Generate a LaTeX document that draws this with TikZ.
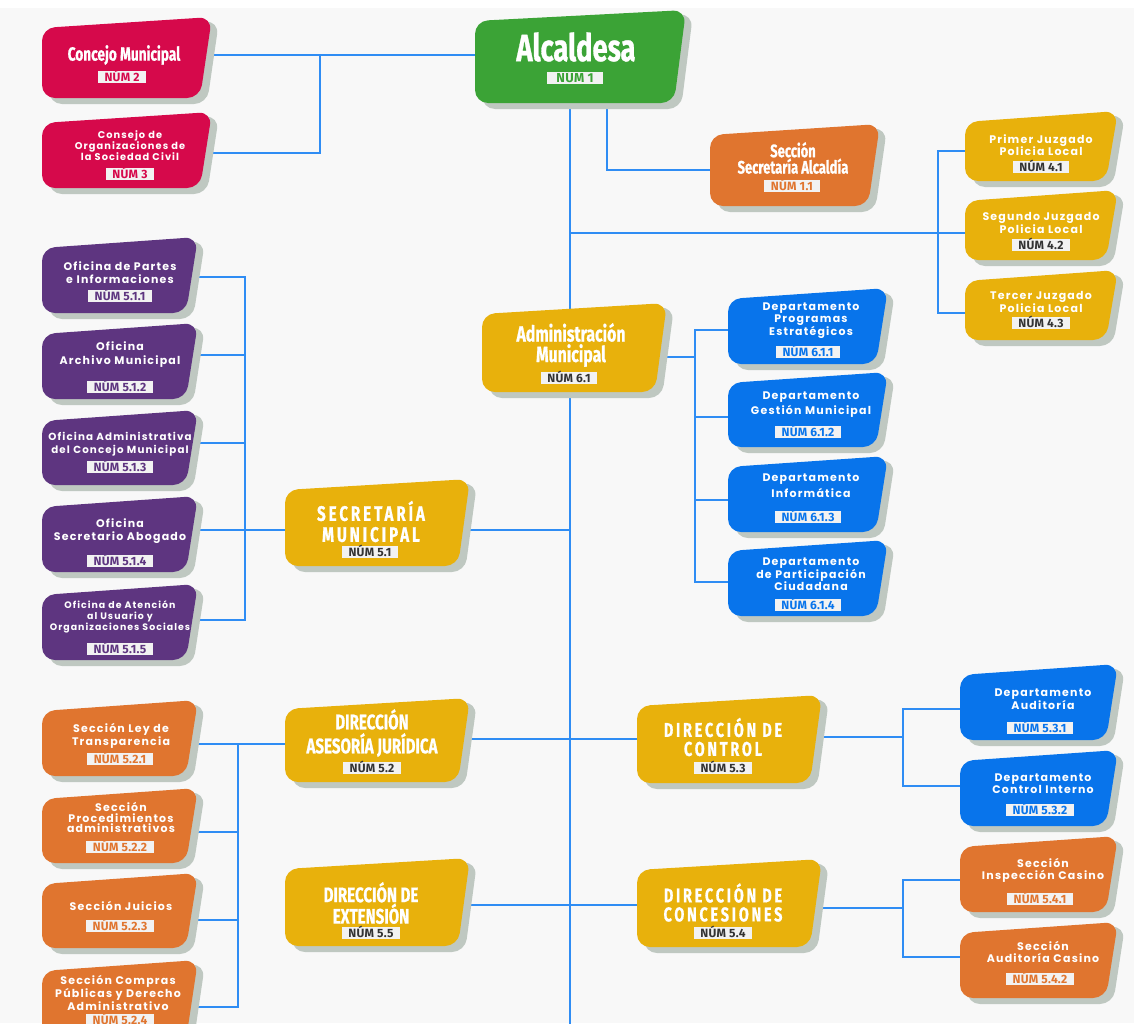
\documentclass[tikz,border=0pt]{standalone}
\usepackage{fontspec}
\usetikzlibrary{fit,calc}
\newfontfamily\condf{Fira Sans}[FakeStretch=0.72,FakeBold=0.8]
\newfontfamily\condsp{Fira Sans}[FakeStretch=0.72,FakeBold=0.8,LetterSpace=14]
\newfontfamily\bodyf{Poppins}[LetterSpace=11]
\newfontfamily\labf{Fira Sans}[LetterSpace=2]
\definecolor{bgc}{HTML}{F8F8F8}
\definecolor{grn}{HTML}{3BA336}
\definecolor{redc}{HTML}{D6094B}
\definecolor{orc}{HTML}{E0752F}
\definecolor{yel}{HTML}{E8B10C}
\definecolor{blu}{HTML}{0874EB}
\definecolor{pur}{HTML}{5E3580}
\definecolor{lnc}{HTML}{2F8DF4}
\definecolor{shc}{HTML}{BFC8C1}
\definecolor{labbg}{HTML}{F2F2F2}
\definecolor{darkt}{HTML}{333333}
\pgfdeclarelayer{back}
\pgfdeclarelayer{lines}
\pgfsetlayers{back,lines,main}
\tikzset{
  conn/.style={draw=lnc, line width=1.9pt},
  ttl/.style={text=white, align=center, inner sep=0pt, font=\condf\bfseries\fontsize{21}{20}\selectfont},
  ttlsp/.style={text=white, align=center, inner sep=0pt, font=\condsp\bfseries\fontsize{21}{18}\selectfont},
  sml/.style={text=white, align=center, inner sep=0pt, font=\bodyf\bfseries\fontsize{11}{12.5}\selectfont},
  numl/.style={fill=labbg, inner xsep=6.5pt, inner ysep=1pt, text height=9.3pt, text depth=0.6pt, font=\labf\bfseries\fontsize{12}{12}\selectfont},
}
\newcommand\obox[6]{%
  \fill[shc, rounded corners=13pt] ({#2+7},{#3+15}) -- ({#4+7},{#3+4}) -- ({#4-5},{#5+6}) -- ({#2+7},{#5+6}) -- cycle;
  \fill[#6, rounded corners=13pt] (#2,{#3+11}) -- (#4,#3) -- ({#4-12},#5) -- (#2,#5) -- cycle;
  \node[fit={(#2,#3) (#4,#5)}, inner sep=0pt] (#1) {};
}
\newcommand\numlab[5]{\node[numl, text=#4] (#1) at (#2,#3) {NÚM #5};}
\begin{document}
\begin{tikzpicture}[x=1pt,y=-1pt]
\useasboundingbox (0,0) rectangle (1134,1023);
\begin{pgfonlayer}{back}
  \fill[white] (0,0) rectangle (1134,1023);
  \fill[bgc] (0,8) rectangle (1134,1023);
\end{pgfonlayer}

% ---------- boxes ----------
\obox{alc}{475}{10}{686}{103}{grn}
\node[ttl, font=\condf\bfseries\fontsize{38}{38}\selectfont] (alc-t) at (576,47) {Alcaldesa};
\node[numl, text=grn, inner xsep=9pt, font=\labf\bfseries\fontsize{13}{13}\selectfont] (alc-n) at (575,78) {NÚM 1};

\obox{conc}{42}{17}{212}{98}{redc}
\node[ttl, font=\condf\bfseries\fontsize{19}{19}\selectfont] (conc-t) at (124,55) {Concejo Municipal};
\numlab{conc-n}{122}{77}{redc}{2}

\obox{cons}{42}{112}{212}{188}{redc}
\node[sml, font=\bodyf\bfseries\fontsize{9.8}{11}\selectfont] (cons-t) at (130,146) {Consejo de\\Organizaciones de\\la Sociedad Civil};
\numlab{cons-n}{130}{174}{redc}{3}

\obox{secal}{710}{124}{880}{206}{orc}
\node[ttl, font=\condf\bfseries\fontsize{18}{15}\selectfont] (secal-t) at (793,158) {Sección\\Secretaría Alcaldía};
\numlab{secal-n}{792}{186}{orc}{1.1}

\obox{jz1}{965}{111}{1118}{181}{yel}
\node[sml] (jz1-t) at (1041,145) {Primer Juzgado\\Policia Local};
\numlab{jz1-n}{1041}{167}{darkt}{4.1}
\obox{jz2}{965}{190}{1118}{260}{yel}
\node[sml] (jz2-t) at (1041,223) {Segundo Juzgado\\Policia Local};
\numlab{jz2-n}{1041}{245}{darkt}{4.2}
\obox{jz3}{965}{270}{1118}{340}{yel}
\node[sml] (jz3-t) at (1041,302) {Tercer Juzgado\\Policia Local};
\numlab{jz3-n}{1041}{323}{darkt}{4.3}

\obox{adm}{482}{303}{667}{392}{yel}
\node[ttl, font=\condf\bfseries\fontsize{22}{20.5}\selectfont] (adm-t) at (571,345) {Administración\\Municipal};
\numlab{adm-n}{569}{378}{darkt}{6.1}

\obox{d611}{728}{288}{888}{364}{blu}
\node[sml] (d611-t) at (811,320.5) {Departamento\\Programas\\Estratégicos};
\numlab{d611-n}{808}{352}{blu}{6.1.1}
\obox{d612}{728}{372}{888}{447}{blu}
\node[sml, font=\bodyf\bfseries\fontsize{11}{15}\selectfont] (d612-t) at (811,404.5) {Departamento\\Gestión Municipal};
\numlab{d612-n}{808}{432}{blu}{6.1.2}
\obox{d613}{728}{456}{888}{532}{blu}
\node[sml, font=\bodyf\bfseries\fontsize{11}{16}\selectfont] (d613-t) at (811,486) {Departamento\\Informática};
\numlab{d613-n}{808}{517}{blu}{6.1.3}
\obox{d614}{728}{540}{888}{616}{blu}
\node[sml] (d614-t) at (811,574.5) {Departamento\\de Participación\\Ciudadana};
\numlab{d614-n}{808}{605}{blu}{6.1.4}

\obox{secm}{285}{479}{470}{566}{yel}
\node[ttlsp, font=\condsp\bfseries\fontsize{21}{21}\selectfont] (secm-t) at (371,521.5) {SECRETARÍA\\MUNICIPAL};
\numlab{secm-n}{370}{552}{darkt}{5.1}

\obox{p511}{42}{237}{198}{313}{pur}
\node[sml, font=\bodyf\bfseries\fontsize{11}{13}\selectfont] (p511-t) at (120,272.5) {Oficina de Partes\\e Informaciones};
\numlab{p511-n}{120}{296}{pur}{5.1.1}
\obox{p512}{42}{323}{198}{399}{pur}
\node[sml, font=\bodyf\bfseries\fontsize{11}{14}\selectfont] (p512-t) at (120,355) {Oficina\\Archivo Municipal};
\numlab{p512-n}{120}{387}{pur}{5.1.2}
\obox{p513}{42}{410}{198}{485}{pur}
\node[sml, font=\bodyf\bfseries\fontsize{10.3}{12.5}\selectfont] (p513-t) at (120,444) {Oficina Administrativa\\del Concejo Municipal};
\numlab{p513-n}{120}{467}{pur}{5.1.3}
\obox{p514}{42}{496}{198}{572}{pur}
\node[sml, font=\bodyf\bfseries\fontsize{11}{12.5}\selectfont] (p514-t) at (120,531) {Oficina\\Secretario Abogado};
\numlab{p514-n}{120}{561}{pur}{5.1.4}
\obox{p515}{42}{584}{198}{660}{pur}
\node[sml, font=\bodyf\bfseries\fontsize{9.4}{11}\selectfont] (p515-t) at (120,617) {Oficina de Atención\\al Usuario y\\Organizaciones Sociales};
\numlab{p515-n}{120}{649}{pur}{5.1.5}

\obox{ases}{285}{698}{470}{782}{yel}
\node[ttl, font=\condf\bfseries\fontsize{21}{24}\selectfont] (ases-t) at (372,733) {DIRECCIÓN\\ASESORÍA JURÍDICA};
\numlab{ases-n}{372}{768}{darkt}{5.2}

\obox{ctrl}{637}{695}{822}{783}{yel}
\node[ttlsp, font=\condsp\bfseries\fontsize{20}{19}\selectfont] (ctrl-t) at (723,737) {DIRECCIÓN DE\\CONTROL};
\numlab{ctrl-n}{723}{768}{darkt}{5.3}

\obox{aud}{960}{664}{1118}{740}{blu}
\node[sml] (aud-t) at (1043,699) {Departamento\\Auditoría};
\numlab{aud-n}{1040}{728}{blu}{5.3.1}
\obox{cint}{960}{750}{1118}{826}{blu}
\node[sml] (cint-t) at (1043,783.5) {Departamento\\Control Interno};
\numlab{cint-n}{1040}{810}{blu}{5.3.2}

\obox{ext}{285}{858}{470}{946}{yel}
\node[ttl, font=\condf\bfseries\fontsize{21}{20}\selectfont] (ext-t) at (371,903) {DIRECCIÓN DE\\EXTENSIÓN};
\numlab{ext-n}{371}{933}{darkt}{5.5}

\obox{conces}{637}{859}{822}{947}{yel}
\node[ttlsp, font=\condsp\bfseries\fontsize{20}{19}\selectfont] (conces-t) at (723,902.5) {DIRECCIÓN DE\\CONCESIONES};
\numlab{conces-n}{723}{933}{darkt}{5.4}

\obox{insp}{960}{836}{1118}{912}{orc}
\node[sml] (insp-t) at (1043,870.5) {Sección\\Inspección Casino};
\numlab{insp-n}{1040}{899}{orc}{5.4.1}
\obox{audc}{960}{922}{1118}{998}{orc}
\node[sml] (audc-t) at (1043,952) {Sección\\Auditoría Casino};
\numlab{audc-n}{1040}{979}{orc}{5.4.2}

\obox{o521}{42}{700}{198}{776}{orc}
\node[sml, font=\bodyf\bfseries\fontsize{11}{13}\selectfont] (o521-t) at (121,735.5) {Sección Ley de\\Transparencia};
\numlab{o521-n}{120}{759}{orc}{5.2.1}
\obox{o522}{42}{788}{198}{863}{orc}
\node[sml, font=\bodyf\bfseries\fontsize{11}{10.8}\selectfont] (o522-t) at (121,817.5) {Sección\\Procedimientos\\administrativos};
\numlab{o522-n}{120}{847}{orc}{5.2.2}
\obox{o523}{42}{873}{198}{948}{orc}
\node[sml] (o523-t) at (121,906) {Sección Juicios};
\numlab{o523-n}{120}{926}{orc}{5.2.3}
\obox{o524}{42}{960}{198}{1040}{orc}
\node[sml, font=\bodyf\bfseries\fontsize{11}{13}\selectfont] (o524-t) at (118,993) {Sección Compras\\Públicas y Derecho\\Administrativo};
\numlab{o524-n}{120}{1020}{orc}{5.2.4}

% ---------- connectors ----------
\begin{pgfonlayer}{lines}
  \coordinate (tbot) at (570,1030);
  \coordinate (jA) at (320,55);
  \draw[conn] (conc.east |- jA) -- (jA) |- (cons.east |- 0,153);
  \draw[conn] (alc.west |- jA) -- (jA);
  \draw[conn] (alc.south -| tbot) -- (tbot);
  \draw[conn] (alc.south -| 607,0) |- (secal.west |- 0,170);
  % juzgados
  \coordinate (jJ) at (938,233);
  \draw[conn] (tbot |- jJ) -- (jz2.west |- jJ);
  \draw[conn] (jz1.west |- 0,151) -| (jJ) |- (jz3.west |- 0,313);
  % administracion
  \coordinate (jD) at (695,357);
  \draw[conn] (adm.east |- jD) -- (jD);
  \draw[conn] (d611.west |- 0,330) -| (jD) |- (d614.west |- 0,582);
  \draw[conn] (jD |- 0,417) -- (d612.west |- 0,417);
  \draw[conn] (jD |- 0,500) -- (d613.west |- 0,500);
  % secretaria
  \coordinate (jS) at (245,530);
  \draw[conn] (secm.east |- jS) -- (tbot |- jS);
  \draw[conn] (secm.west |- jS) -- (p514.east |- jS);
  \draw[conn] (p511.east |- 0,277) -| (jS) |- (p515.east |- 0,620);
  \draw[conn] (jS |- 0,355) -- (p512.east |- 0,355);
  \draw[conn] (jS |- 0,443) -- (p513.east |- 0,443);
  % asesoria
  \coordinate (jL) at (238,744);
  \draw[conn] (ases.east |- 0,739) -- (ctrl.west |- 0,739);
  \draw[conn] (ases.west |- jL) -- (jL);
  \draw[conn] (o521.east |- jL) -- (jL) |- (o524.east |- 0,1007);
  \draw[conn] (jL |- 0,832) -- (o522.east |- 0,832);
  \draw[conn] (jL |- 0,920) -- (o523.east |- 0,920);
  % control
  \coordinate (jC) at (903,737);
  \draw[conn] (ctrl.east |- jC) -- (jC);
  \draw[conn] (aud.west |- 0,709) -| (jC) |- (cint.west |- 0,786);
  % extension / concesiones
  \draw[conn] (ext.east |- 0,905) -- (conces.west |- 0,905);
  \coordinate (jK) at (903,908);
  \draw[conn] (conces.east |- jK) -- (jK);
  \draw[conn] (insp.west |- 0,880) -| (jK) |- (audc.west |- 0,957);
\end{pgfonlayer}
\end{tikzpicture}
\end{document}
